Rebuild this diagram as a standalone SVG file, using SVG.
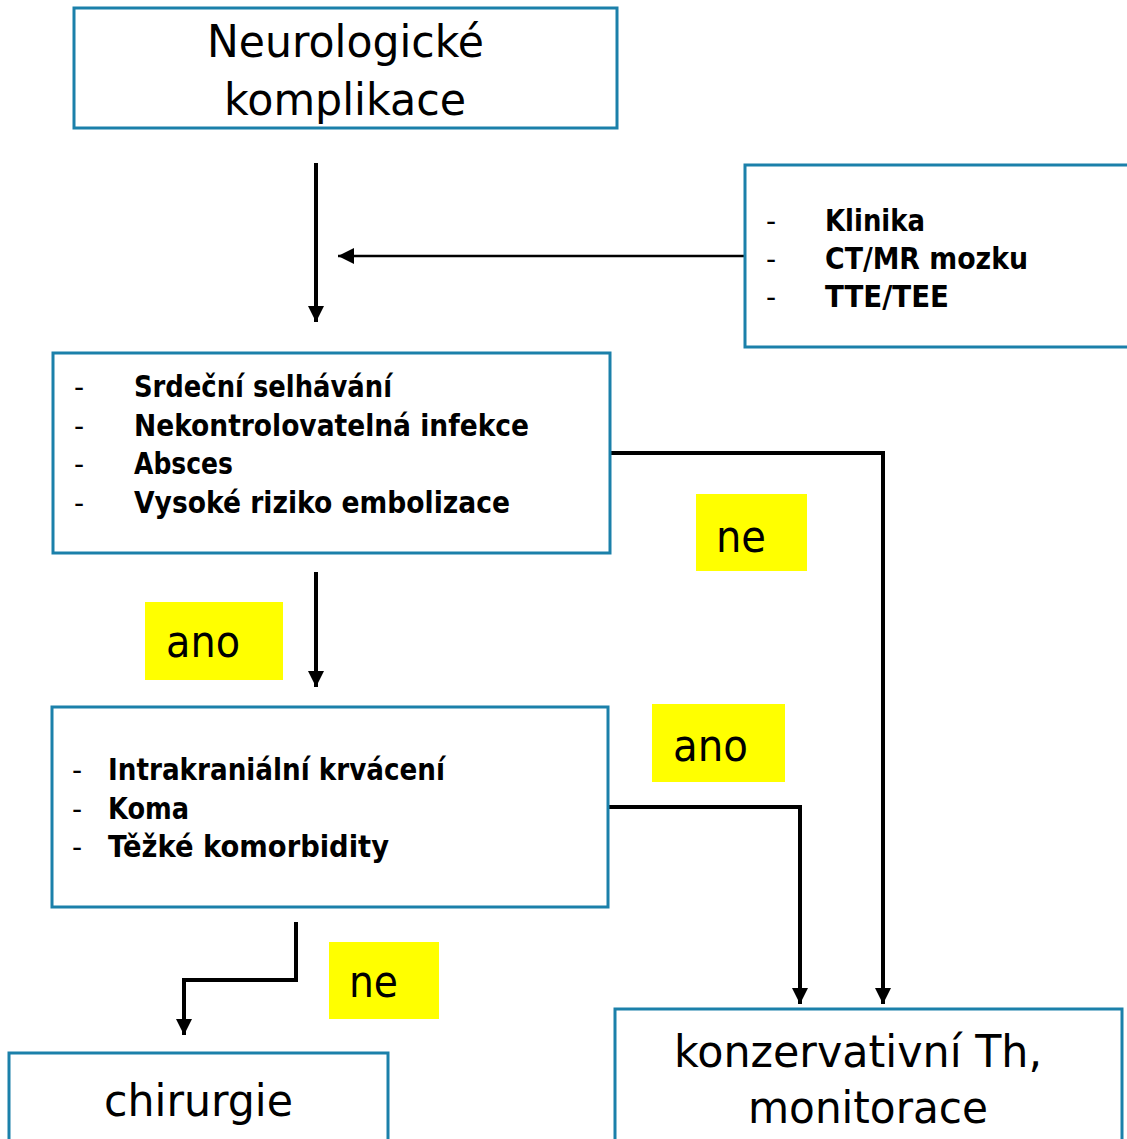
<svg xmlns="http://www.w3.org/2000/svg" width="1127" height="1139" viewBox="0 0 1127 1139">
<defs>
<marker id="ah" viewBox="0 0 16 16" refX="16" refY="8" markerWidth="16" markerHeight="16" markerUnits="userSpaceOnUse" orient="auto"><path d="M0,0 L16,8 L0,16 z" fill="#000"/></marker>
<style>
.box{fill:#fff;stroke:#1b80aa;stroke-width:3}
.hl{fill:#ffff00}
.t{font-family:"DejaVu Sans","Liberation Sans",sans-serif;fill:#000}
.big{font-size:44px}
.lst{font-size:30px;font-weight:bold}
.dash{font-size:28px;font-weight:normal}
.con{fill:none;stroke:#000;stroke-width:4;stroke-linejoin:miter}
.thin{stroke-width:2.5}
</style>
</defs>
<rect width="1127" height="1139" fill="#fff"/>
<g id="connectors">
<path class="con" d="M316,163 V322" marker-end="url(#ah)"/>
<path class="con thin" d="M745,256 H338" marker-end="url(#ah)"/>
<path class="con" d="M608,453 H883 V1004" marker-end="url(#ah)"/>
<path class="con" d="M316,572 V687" marker-end="url(#ah)"/>
<path class="con" d="M606,807 H800 V1004" marker-end="url(#ah)"/>
<path class="con" d="M296,922 V980 H184 V1035" marker-end="url(#ah)"/>
</g>
<g id="n-neuro">
<rect class="box" x="74" y="8" width="543" height="120"/>
<text class="t big" x="207" y="57" textLength="277" lengthAdjust="spacingAndGlyphs">Neurologické</text>
<text class="t big" x="224" y="115" textLength="242" lengthAdjust="spacingAndGlyphs">komplikace</text>
</g>
<g id="n-diag">
<rect class="box" x="745" y="165" width="400" height="182"/>
<text class="t dash" x="766" y="231">-</text>
<text class="t dash" x="766" y="269">-</text>
<text class="t dash" x="766" y="307">-</text>
<text class="t lst" x="825" y="231" textLength="100" lengthAdjust="spacingAndGlyphs">Klinika</text>
<text class="t lst" x="825" y="269" textLength="203" lengthAdjust="spacingAndGlyphs">CT/MR mozku</text>
<text class="t lst" x="825" y="307" textLength="124" lengthAdjust="spacingAndGlyphs">TTE/TEE</text>
</g>
<g id="n-crit1">
<rect class="box" x="53" y="353" width="557" height="200"/>
<text class="t dash" x="74" y="397">-</text>
<text class="t dash" x="74" y="436">-</text>
<text class="t dash" x="74" y="474">-</text>
<text class="t dash" x="74" y="513">-</text>
<text class="t lst" x="134" y="397" textLength="258" lengthAdjust="spacingAndGlyphs">Srdeční selhávání</text>
<text class="t lst" x="134" y="436" textLength="395" lengthAdjust="spacingAndGlyphs">Nekontrolovatelná infekce</text>
<text class="t lst" x="134" y="474" textLength="99" lengthAdjust="spacingAndGlyphs">Absces</text>
<text class="t lst" x="134" y="513" textLength="376" lengthAdjust="spacingAndGlyphs">Vysoké riziko embolizace</text>
</g>
<g id="n-crit2">
<rect class="box" x="52" y="707" width="556" height="200"/>
<text class="t dash" x="72" y="780">-</text>
<text class="t dash" x="72" y="819">-</text>
<text class="t dash" x="72" y="857">-</text>
<text class="t lst" x="108" y="780" textLength="337" lengthAdjust="spacingAndGlyphs">Intrakraniální krvácení</text>
<text class="t lst" x="108" y="819" textLength="81" lengthAdjust="spacingAndGlyphs">Koma</text>
<text class="t lst" x="108" y="857" textLength="281" lengthAdjust="spacingAndGlyphs">Těžké komorbidity</text>
</g>
<g id="n-chir">
<rect class="box" x="9" y="1053" width="379" height="120"/>
<text class="t big" x="104" y="1116" textLength="189" lengthAdjust="spacingAndGlyphs">chirurgie</text>
</g>
<g id="n-kons">
<rect class="box" x="615" y="1009" width="507" height="160"/>
<text class="t big" x="674" y="1067" textLength="368" lengthAdjust="spacingAndGlyphs">konzervativní Th,</text>
<text class="t big" x="748" y="1123" textLength="240" lengthAdjust="spacingAndGlyphs">monitorace</text>
</g>
<g id="l-ne1">
<rect class="hl" x="696" y="494" width="111" height="77"/>
<text class="t big" x="716" y="552" textLength="50" lengthAdjust="spacingAndGlyphs">ne</text>
</g>
<g id="l-ano1">
<rect class="hl" x="145" y="602" width="138" height="78"/>
<text class="t big" x="166" y="657" textLength="74" lengthAdjust="spacingAndGlyphs">ano</text>
</g>
<g id="l-ano2">
<rect class="hl" x="652" y="704" width="133" height="78"/>
<text class="t big" x="673" y="761" textLength="75" lengthAdjust="spacingAndGlyphs">ano</text>
</g>
<g id="l-ne2">
<rect class="hl" x="329" y="942" width="110" height="77"/>
<text class="t big" x="349" y="997" textLength="49" lengthAdjust="spacingAndGlyphs">ne</text>
</g>
</svg>
